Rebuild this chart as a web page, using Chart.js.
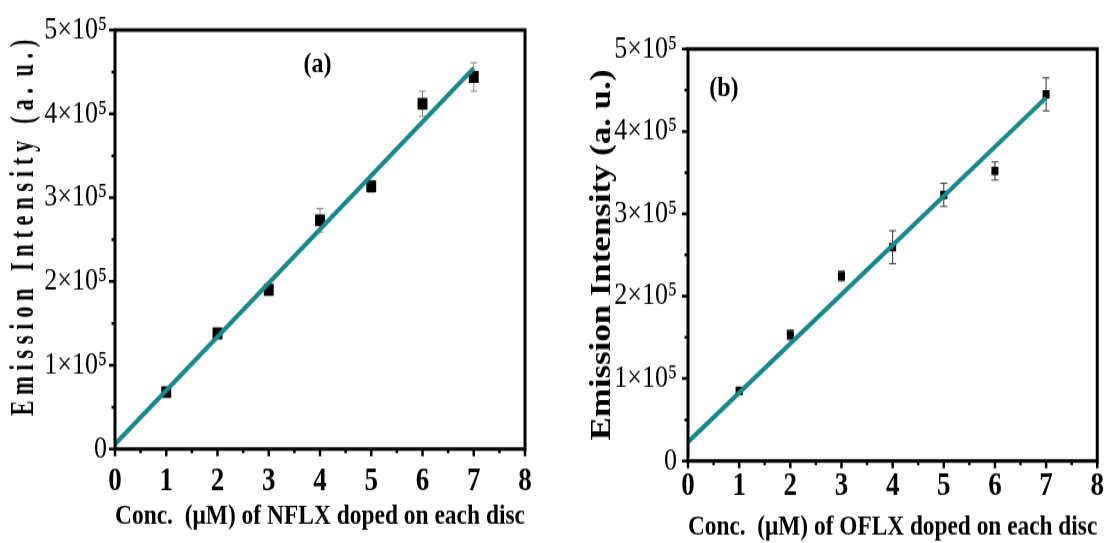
<!DOCTYPE html>
<html><head><meta charset="utf-8">
<script src="https://cdn.jsdelivr.net/npm/chart.js@4/dist/chart.umd.min.js"></script>
<style>
html,body{margin:0;padding:0;background:#fff;width:1112px;height:543px;overflow:hidden}
.wrap{position:absolute;top:0;width:556px;height:452px;transform-origin:0 0;transform:scaleY(1.20133)}
#wa{left:0}
#wb{left:556px}
</style></head><body>
<div class="wrap" id="wa"><canvas id="ca" width="556" height="452"></canvas></div>
<div class="wrap" id="wb"><canvas id="cb" width="556" height="452"></canvas></div>
<script>
// ---- data ----
const concA = [1, 2, 3, 4, 5, 6, 7];
const intensityA = [68000, 138000, 190000, 273000, 313500, 412000, 444000];
const errorA = [5000, 5000, 5000, 14000, 7000, 15000, 17000];
const fitXA = [0, 7];
const fitYA = [5800, 454500];

const concB = [1, 2, 3, 4, 5, 6, 7];
const intensityB = [85000, 153000, 224500, 259500, 323000, 352000, 445000];
const errorB = [3000, 6000, 6000, 20000, 14000, 11000, 20000];
const fitXB = [0, 7];
const fitYB = [23000, 441000];

const xTicks = [0, 1, 2, 3, 4, 5, 6, 7, 8];
const yTickValues = [0, 100000, 200000, 300000, 400000, 500000];
const yTickLabels = ['0', '1×10⁵', '2×10⁵', '3×10⁵', '4×10⁵', '5×10⁵'];

const yTitleA = 'E m i s s i o n   I n t e n s i t y   ( a .  u . )';
const yTitleB = 'Emission Intensity (a. u.)';
const xTitleA = 'Conc.  (μM) of NFLX doped on each disc';
const xTitleB = 'Conc.  (μM) of OFLX doped on each disc';

const SERIF = '"Liberation Serif", "Times New Roman", serif';
const TEAL = '#16898a';

const framePlugin = {
  id: 'frame',
  beforeDatasetsDraw(chart, args, o) {
    const ctx = chart.ctx, xs = chart.scales.x, ys = chart.scales.y;
    ctx.save();
    ctx.strokeStyle = o.errColor;
    ctx.lineWidth = 1;
    o.xs.forEach((xv, i) => {
      const px = xs.getPixelForValue(xv);
      const y1 = ys.getPixelForValue(o.ys[i] + o.err[i]);
      const y2 = ys.getPixelForValue(o.ys[i] - o.err[i]);
      ctx.beginPath();
      ctx.moveTo(px, y1); ctx.lineTo(px, y2);
      ctx.moveTo(px - o.cap, y1); ctx.lineTo(px + o.cap, y1);
      ctx.moveTo(px - o.cap, y2); ctx.lineTo(px + o.cap, y2);
      ctx.stroke();
    });
    ctx.restore();
  },
  afterDraw(chart, args, o) {
    const ctx = chart.ctx, a = chart.chartArea, xs = chart.scales.x, ys = chart.scales.y;
    ctx.save();
    ctx.strokeStyle = '#000';
    ctx.lineWidth = 2.5;
    ctx.beginPath();
    for (let v = 0; v <= 8.001; v += 0.5) {
      const px = xs.getPixelForValue(v);
      const len = Math.abs(v - Math.round(v)) < 1e-6 ? 6 : 3.5;
      ctx.moveTo(px, a.bottom); ctx.lineTo(px, a.bottom + len);
    }
    for (let v = 0; v <= 500001; v += 50000) {
      const py = ys.getPixelForValue(v);
      const len = (v % 100000) === 0 ? 6 : 3.5;
      ctx.moveTo(a.left, py); ctx.lineTo(a.left - len, py);
    }
    ctx.stroke();
    ctx.lineWidth = 3;
    ctx.strokeRect(a.left, a.top, a.right - a.left, a.bottom - a.top);
    ctx.fillStyle = '#000';
    ctx.font = 'bold 24px ' + SERIF;
    ctx.textAlign = 'center';
    ctx.textBaseline = 'middle';
    ctx.fillText(o.label, xs.getPixelForValue(o.labelAt[0]), ys.getPixelForValue(o.labelAt[1]));
    ctx.restore();
  }
};

function makeChart(id, p) {
  return new Chart(document.getElementById(id), {
    type: 'scatter',
    data: {
      datasets: [
        {
          type: 'line', label: 'fit', order: 0,
          data: p.fitX.map((x, i) => ({x, y: p.fitY[i]})),
          borderColor: TEAL, borderWidth: 4, pointRadius: 0, fill: false
        },
        {
          label: 'data', order: 1,
          data: p.xs.map((x, i) => ({x, y: p.ys[i]})),
          pointStyle: 'rect', pointRadius: p.pr, pointBorderWidth: 0,
          backgroundColor: '#000', borderColor: '#000', showLine: false
        }
      ]
    },
    options: {
      responsive: false, animation: false, devicePixelRatio: 1, events: [],
      layout: {padding: p.pad},
      plugins: {
        legend: {display: false}, tooltip: {enabled: false},
        frame: {xs: p.xs, ys: p.ys, err: p.err, cap: 3.5, errColor: p.errColor,
                label: p.label, labelAt: p.labelAt}
      },
      scales: {
        x: {
          type: 'linear', min: 0, max: 8,
          afterFit: s => { s.height = p.xHeight; },
          afterBuildTicks: s => { s.ticks = xTicks.map(v => ({value: v})); },
          ticks: {color: '#000', padding: p.xTickPad,
                  font: {family: SERIF, size: 27, weight: 'bold', lineHeight: 1},
                  callback: v => String(v)},
          grid: {display: true, drawOnChartArea: false, drawTicks: false},
          border: {display: false},
          title: {display: true, text: p.xTitle, color: '#000',
                  font: {family: SERIF, size: 24, weight: 'bold', lineHeight: 1.1},
                  padding: {top: 0, bottom: p.xTitlePad}}
        },
        y: {
          type: 'linear', min: 0, max: 500000,
          afterFit: s => {
            s.width = p.yWidth;
            if (p.squish && !s._squished) {
              const orig = s.drawTitle;
              s.drawTitle = function () {
                const ctx = this.ctx, cy = (this.top + this.bottom) / 2;
                ctx.save();
                ctx.translate(0, p.squish.center);
                ctx.scale(1, p.squish.k);
                ctx.translate(0, -cy);
                orig.apply(this, arguments);
                ctx.restore();
              };
              s._squished = true;
            }
          },
          afterBuildTicks: s => { s.ticks = yTickValues.map(v => ({value: v})); },
          ticks: {color: '#000', padding: p.yTickPad,
                  font: {family: SERIF, size: 26, lineHeight: 1},
                  callback: v => yTickLabels[yTickValues.indexOf(v)]},
          grid: {display: true, drawOnChartArea: false, drawTicks: false},
          border: {display: false},
          title: {display: true, text: p.yTitle, color: '#000',
                  font: {family: SERIF, size: p.yTitleSize, weight: 'bold', lineHeight: 1.2},
                  padding: {top: p.yTitlePad, bottom: 0}}
        }
      }
    },
    plugins: [framePlugin]
  });
}

makeChart('ca', {
  xs: concA, ys: intensityA, err: errorA, fitX: fitXA, fitY: fitYA,
  pr: 7, errColor: '#8a8a8a', label: '(a)', labelAt: [3.95, 459000],
  pad: {left: 0, right: 31, top: 25, bottom: 0},
  xHeight: 78.2, yWidth: 115, xTickPad: 14, yTickPad: 8,
  xTitle: xTitleA, xTitlePad: 9.5,
  yTitle: yTitleA, yTitleSize: 33, yTitlePad: 4.7,
  squish: {k: 0.57, center: 189.5}
});
makeChart('cb', {
  xs: concB, ys: intensityB, err: errorB, fitX: fitXB, fitY: fitYB,
  pr: 5, errColor: '#333', label: '(b)', labelAt: [0.7, 452000],
  pad: {left: 0, right: 10, top: 40.8, bottom: 0},
  xHeight: 68.3, yWidth: 132, xTickPad: 8, yTickPad: 11,
  xTitle: xTitleB, xTitlePad: 0,
  yTitle: yTitleB, yTitleSize: 29, yTitlePad: 29.6
});
</script>
</body></html>
